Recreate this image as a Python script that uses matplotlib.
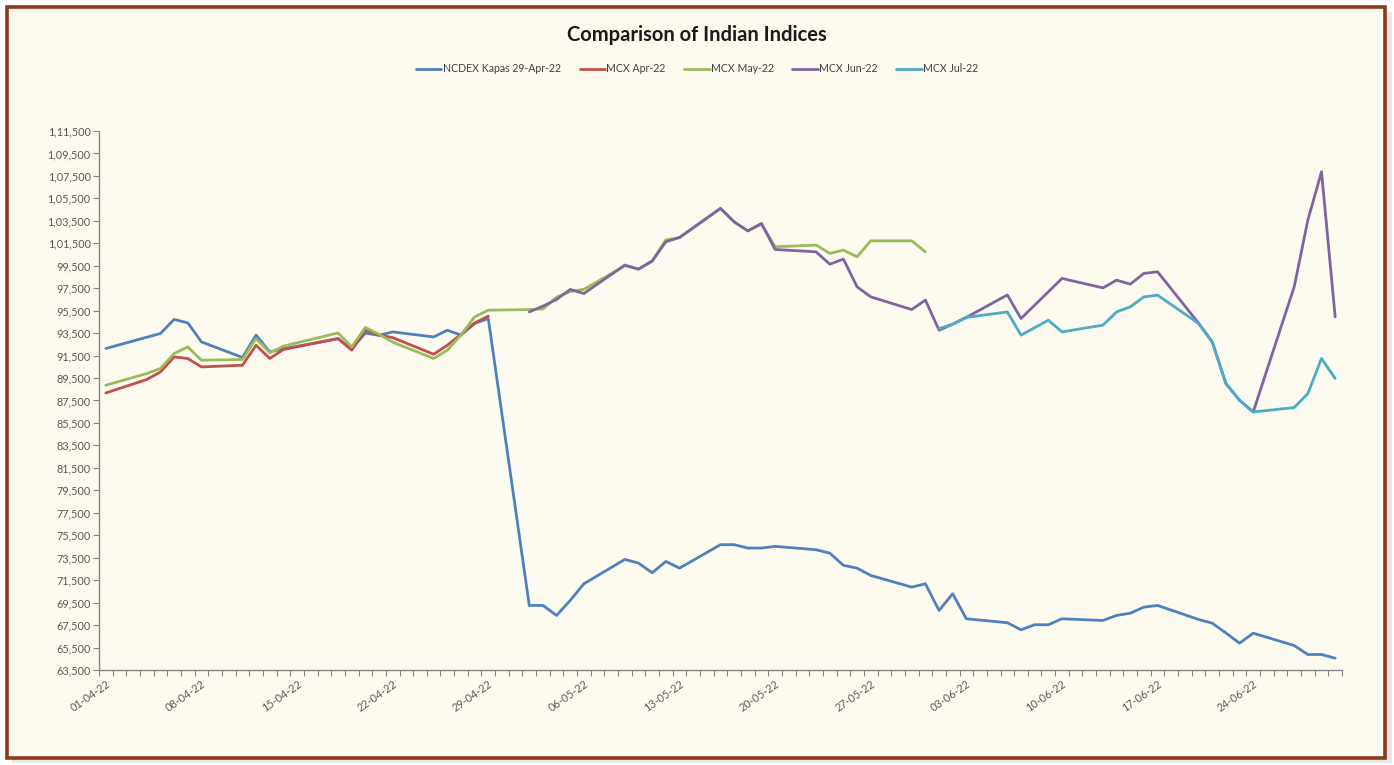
import matplotlib
matplotlib.use("Agg")
import matplotlib.pyplot as plt
import matplotlib.dates as mdates
from matplotlib.patches import Rectangle
from matplotlib.ticker import FuncFormatter, FixedLocator
from datetime import datetime, timedelta

# ---------------- data ----------------
ncdex_dates = ["01-04", "05-04", "06-04", "07-04", "08-04", "11-04", "12-04", "13-04", "14-04",
               "18-04", "19-04", "20-04", "21-04", "22-04", "25-04", "26-04", "27-04", "28-04", "29-04",
               "02-05", "03-05", "04-05", "05-05", "06-05", "09-05", "10-05", "11-05", "12-05", "13-05",
               "16-05", "17-05", "18-05", "19-05", "20-05", "23-05", "24-05", "25-05", "26-05", "27-05",
               "30-05", "31-05", "01-06", "02-06", "03-06", "06-06", "07-06", "08-06", "09-06", "10-06",
               "13-06", "14-06", "15-06", "16-06", "17-06", "20-06", "21-06", "22-06", "23-06", "24-06",
               "27-06", "28-06", "29-06", "30-06"]
ncdex_vals = [92130, 93470, 94720, 94410, 92720, 91330, 93320, 91830, 92100,
              93000, 92100, 93500, 93300, 93610, 93160, 93760, 93320, 94360, 94800,
              69250, 69250, 68360, 69700, 71180, 73350, 73020, 72160, 73170, 72570,
              74660, 74660, 74360, 74360, 74510, 74210, 73910, 72820, 72570, 71920,
              70880, 71180, 68800, 70290, 68060, 67710, 67080, 67530, 67530, 68060,
              67910, 68360, 68560, 69100, 69250, 68000, 67670, 66800, 65890, 66780,
              65680, 64880, 64880, 64550]

apr_dates = ["01-04", "04-04", "05-04", "06-04", "07-04", "08-04", "11-04", "12-04", "13-04", "14-04",
             "18-04", "19-04", "20-04", "21-04", "22-04", "25-04", "26-04", "27-04", "28-04", "29-04"]
apr_vals = [88170, 89370, 90040, 91380, 91240, 90490, 90640, 92420, 91240, 92040,
            93020, 91980, 93760, 93320, 93100, 91620, 92420, 93400, 94400, 95010]

may_dates = ["01-04", "04-04", "05-04", "06-04", "07-04", "08-04", "11-04", "12-04", "13-04", "14-04",
             "18-04", "19-04", "20-04", "21-04", "22-04", "25-04", "26-04", "27-04", "28-04", "29-04",
             "02-05", "03-05", "04-05", "05-05", "06-05", "09-05", "10-05", "11-05", "12-05", "13-05",
             "16-05", "17-05", "18-05", "19-05", "20-05", "23-05", "24-05", "25-05", "26-05", "27-05",
             "30-05", "31-05"]
may_vals = [88860, 89900, 90350, 91680, 92270, 91090, 91150, 93020, 91740, 92340,
            93520, 92270, 94000, 93400, 92700, 91240, 91980, 93320, 94950, 95540,
            95600, 95650, 96700, 97200, 97400, 99500, 99200, 99900, 101800, 102000,
            104600, 103400, 102600, 103200, 101190, 101340, 100600, 100890, 100300, 101720,
            101720, 100740]

jun_dates = ["02-05", "03-05", "04-05", "05-05", "06-05", "09-05", "10-05", "11-05", "12-05", "13-05",
             "16-05", "17-05", "18-05", "19-05", "20-05", "23-05", "24-05", "25-05", "26-05", "27-05",
             "30-05", "31-05", "01-06", "02-06", "03-06", "06-06", "07-06", "10-06", "13-06", "14-06",
             "15-06", "16-06", "17-06", "20-06", "21-06", "22-06", "23-06", "24-06", "27-06", "28-06",
             "29-06", "30-06"]
jun_vals = [95390, 95900, 96500, 97390, 97030, 99560, 99200, 99940, 101630, 102020,
            104610, 103410, 102610, 103270, 100950, 100740, 99640, 100090, 97620, 96730,
            95600, 96440, 93760, 94300, 94900, 96900, 94800, 98370, 97530, 98220,
            97860, 98820, 98960, 94390, 92720, 89010, 87520, 86480, 97620, 103570,
            107870, 94950]

jul_dates = ["01-06", "02-06", "03-06", "06-06", "07-06", "09-06", "10-06", "13-06", "14-06", "15-06",
             "16-06", "17-06", "20-06", "21-06", "22-06", "23-06", "24-06", "27-06", "28-06", "29-06",
             "30-06"]
jul_vals = [93900, 94300, 94900, 95390, 93320, 94650, 93610, 94210, 95390, 95840,
            96730, 96880, 94360, 92720, 89010, 87520, 86480, 86870, 88120, 91240,
            89460]

series_names = ["NCDEX Kapas 29-Apr-22", "MCX Apr-22", "MCX May-22", "MCX Jun-22", "MCX Jul-22"]
series_colors = ["#4F81BD", "#C0504D", "#9BBB59", "#8064A2", "#4BACC6"]

title_text = "Comparison of Indian Indices"
y_min, y_max, y_step = 63500, 111500, 2000
year = 2022


def to_dt(s):
    d, m = s.split("-")
    # Excel date axis: points sit in the middle of each day slot
    return datetime(year, int(m), int(d), 12)


def indian_fmt(v, pos=None):
    v = int(round(v))
    s = str(v)
    if len(s) <= 3:
        return s
    last3 = s[-3:]
    rest = s[:-3]
    groups = []
    while len(rest) > 2:
        groups.insert(0, rest[-2:])
        rest = rest[:-2]
    if rest:
        groups.insert(0, rest)
    return ",".join(groups) + "," + last3


# ---------------- figure ----------------
plt.rcParams["font.family"] = ["Lato", "DejaVu Sans"]
W, H = 1394, 765
fig = plt.figure(figsize=(W / 100, H / 100), dpi=100)
fig.patch.set_facecolor("#FFFFFF")

# outer frame with shadow
fig.patches.append(Rectangle((12 / W, 1 - 763 / H), (1392 - 12) / W, (763 - 12) / H,
                             transform=fig.transFigure, facecolor="#D9D9D9", edgecolor="none",
                             zorder=-3, alpha=0.6))
fig.patches.append(Rectangle((7 / W, 1 - 758 / H), (1385 - 7) / W, (758 - 7) / H,
                             transform=fig.transFigure, facecolor="#FDFBF0", edgecolor="#8B3A1C",
                             linewidth=2.6, zorder=-2))

ax = fig.add_axes([99 / W, 1 - 670 / H, (1342 - 99) / W, (670 - 131) / H])
ax.set_zorder(2)
ax.set_facecolor("none")

all_series = [(ncdex_dates, ncdex_vals), (apr_dates, apr_vals), (may_dates, may_vals),
              (jun_dates, jun_vals), (jul_dates, jul_vals)]
for (ds, vs), name, col in zip(all_series, series_names, series_colors):
    ax.plot([to_dt(s) for s in ds], vs, color=col, linewidth=2.0, label=name,
            solid_joinstyle="round", solid_capstyle="round")

ax.set_ylim(y_min, y_max)
ax.set_xlim(datetime(year, 4, 1), datetime(year, 7, 1))

yt = list(range(y_min, y_max + 1, y_step))
ax.yaxis.set_major_locator(FixedLocator(yt))
ax.yaxis.set_major_formatter(FuncFormatter(indian_fmt))

label_days = [datetime(year, 4, 1) + timedelta(days=7 * i) for i in range(13)]
ax.xaxis.set_major_locator(FixedLocator([mdates.date2num(d + timedelta(hours=12)) for d in label_days]))
ax.xaxis.set_major_formatter(FuncFormatter(lambda x, p: mdates.num2date(x).strftime("%d-%m-%y")))
day_bounds = [datetime(year, 4, 1) + timedelta(days=i) for i in range(92)]
ax.xaxis.set_minor_locator(FixedLocator([mdates.date2num(d) for d in day_bounds]))

for sp in ["top", "right"]:
    ax.spines[sp].set_visible(False)
for sp in ["left", "bottom"]:
    ax.spines[sp].set_color("#868686")
    ax.spines[sp].set_linewidth(1.0)

ax.tick_params(axis="y", which="major", length=4, width=0.8, color="#868686",
               labelsize=7.8, labelcolor="#595959", pad=2)
ax.tick_params(axis="x", which="major", length=0, labelsize=7.8, labelcolor="#595959", pad=6)
ax.tick_params(axis="x", which="minor", length=4, width=0.8, color="#868686")
for lab in ax.get_xticklabels():
    lab.set_rotation(35)
    lab.set_ha("right")
    lab.set_rotation_mode("anchor")

fig.text(0.5, 1 - 35 / H, title_text, ha="center", va="center", fontsize=14.5,
         fontweight="bold", color="#1A1A1A")

leg = fig.legend(loc="center", bbox_to_anchor=(0.5, 1 - 69 / H), ncol=5, frameon=False,
                 fontsize=7.6, handlelength=2.4, columnspacing=1.8, handletextpad=0.1)
for t in leg.get_texts():
    t.set_color("#404040")

fig.savefig("out.png", dpi=100)
